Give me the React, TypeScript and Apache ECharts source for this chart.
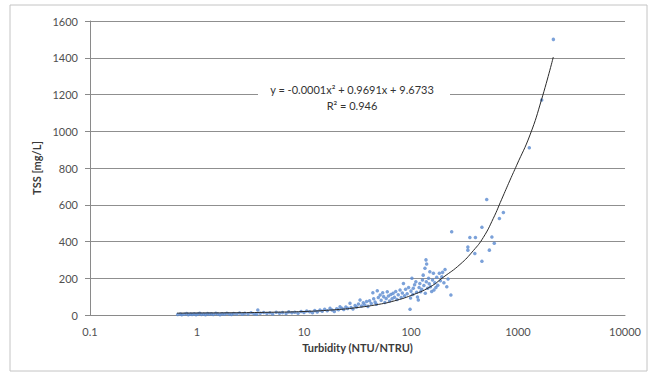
import React, { useEffect, useRef } from "react";
import * as echarts from "echarts";

const xTickLabels = ["0.1", "1", "10", "100", "1000", "10000"];
const yMin = 0;
const yMax = 1600;
const yStep = 200;

const lowRangePoints: [number, number][] = [
  [0.66, 3], [0.7, 6], [0.72, 1], [0.76, 4], [0.8, 8], [0.83, 2], [0.87, 5], [0.9, 3], [0.94, 7], [0.98, 2],
  [1.02, 5], [1.06, 9], [1.1, 3], [1.15, 6], [1.2, 2], [1.25, 8], [1.3, 4], [1.36, 7], [1.42, 3], [1.5, 9],
  [1.56, 5], [1.64, 2], [1.72, 7], [1.8, 4], [1.9, 10], [2.0, 6], [2.1, 3], [2.2, 8], [2.35, 5], [2.5, 11],
  [2.65, 4], [2.8, 9], [3.0, 6], [3.2, 12], [3.4, 7], [3.6, 4], [3.7, 27], [3.9, 10], [4.2, 14], [4.5, 8],
  [4.8, 12], [5.1, 6], [5.5, 15], [5.9, 10], [6.3, 13], [6.8, 8], [7.2, 17], [7.7, 12], [8.2, 15], [8.8, 10],
  [9.4, 19],
];

const midRangePoints: [number, number][] = [
  [10, 14], [10.6, 22], [11.3, 18], [12, 12], [12.6, 24], [13.3, 17], [14.1, 27], [14.8, 20], [15.6, 31], [16.5, 23],
  [17.5, 36], [18.3, 27], [19.2, 19], [20.2, 34], [21, 28], [21.7, 45], [22.6, 37], [23.5, 30], [24.6, 44], [25.6, 36],
  [26.9, 64], [27.5, 41], [28.7, 33], [30, 52], [31, 44], [32.3, 60], [33.4, 82], [34.5, 49], [35.8, 66], [37, 55],
  [38.4, 73], [39.6, 47], [41, 78], [42.5, 62], [44, 121], [44.8, 88], [46.2, 70], [47.5, 58], [48.4, 132], [49.5, 95],
  [51.5, 109], [52.6, 80], [54.4, 121], [55.5, 100], [57, 68], [58.6, 90], [60, 127], [61.5, 103], [63, 76], [64.8, 112],
  [66.5, 88], [68, 118], [70, 97], [72, 128], [74, 84], [76, 110], [79, 136], [81, 95], [83, 120], [85, 172],
  [87, 104], [89, 140], [92, 116], [95, 150], [98, 31], [99, 92],
];

const highRangePoints: [number, number][] = [
  [100, 130], [102, 200], [104, 112], [105, 145], [108, 165], [111, 181], [113, 124], [115, 98], [117, 82], [119, 150],
  [121, 172], [123, 127], [126, 140], [128, 190], [130, 217], [132, 160], [135, 254], [136, 118], [138, 300], [139, 181],
  [140, 277], [143, 145], [146, 200], [148, 170], [150, 235], [152, 154], [156, 128], [159, 190], [162, 227], [164, 136],
  [167, 176], [171, 150], [174, 205], [178, 162], [184, 227], [188, 186], [194, 208], [197, 232], [203, 175], [208, 248],
  [216, 154], [222, 196], [236, 109],
];

const peakPoints: [number, number][] = [
  [240, 453], [340, 370], [340, 353], [355, 422], [395, 335], [400, 422], [460, 477], [460, 293], [510, 629], [540, 353],
  [570, 425], [600, 390], [670, 525], [730, 558], [1275, 910], [1665, 1170], [2140, 1500],
];

const trendPoints: [number, number][] = [
  [0.65, 10], [1, 11], [2, 12], [5, 15], [10, 19], [20, 29], [30, 39], [50, 58], [70, 77], [100, 106],
  [150, 152], [200, 205], [287, 275], [382, 350], [474, 422], [588, 526], [704, 630], [842, 734], [972, 815],
  [1295, 980], [1665, 1175], [2138, 1404],
];

const equationText = "y = -0.0001x\u00B2 + 0.9691x + 9.6733";
const r2Text = "R\u00B2 = 0.946";

const FONT = "Lato, 'Open Sans', sans-serif";

export default function App() {
  const ref = useRef<HTMLDivElement>(null);

  useEffect(() => {
    if (!ref.current) return;
    const chart = echarts.init(ref.current, null, { renderer: "svg" });
    const scatterData = [...lowRangePoints, ...midRangePoints, ...highRangePoints, ...peakPoints];
    chart.setOption({
      animation: false,
      backgroundColor: "#ffffff",
      grid: { left: 90, right: 26, top: 21, bottom: 59 },
      xAxis: {
        type: "log",
        logBase: 10,
        min: 0.1,
        max: 10000,
        name: "Turbidity (NTU/NTRU)",
        nameLocation: "middle",
        nameGap: 27,
        nameTextStyle: { fontFamily: FONT, fontSize: 11, fontWeight: "bold", color: "#3a3a3a" },
        axisLine: { show: true, lineStyle: { color: "#8a8a8a", width: 1 } },
        axisTick: { show: false },
        splitLine: { show: false },
        minorTick: { show: false },
        axisLabel: {
          fontFamily: FONT,
          fontSize: 11,
          color: "#505050",
          margin: 11,
          formatter: (v: number) => {
            const i = Math.round(Math.log10(v)) + 1;
            return xTickLabels[i] ?? "";
          },
        },
      },
      yAxis: {
        type: "value",
        min: yMin,
        max: yMax,
        interval: yStep,
        name: "TSS [mg/L]",
        nameLocation: "middle",
        nameGap: 47,
        nameRotate: 90,
        nameTextStyle: { fontFamily: FONT, fontSize: 11, fontWeight: "bold", color: "#3a3a3a" },
        axisLine: { show: true, lineStyle: { color: "#8a8a8a", width: 1 } },
        axisTick: { show: true, length: 5, lineStyle: { color: "#8a8a8a" } },
        splitLine: { show: true, lineStyle: { color: "#8f8f8f", width: 1 } },
        axisLabel: {
          fontFamily: FONT,
          fontSize: 11,
          color: "#505050",
          margin: 12,
          formatter: (v: number) => String(v),
        },
      },
      series: [
        {
          type: "scatter",
          data: scatterData,
          symbol: "circle",
          symbolSize: 3.5,
          itemStyle: { color: "#5a8ad0" },
          z: 2,
        },
        {
          type: "line",
          data: trendPoints,
          smooth: true,
          showSymbol: false,
          lineStyle: { color: "#2a2a2a", width: 1 },
          z: 3,
        },
      ],
      graphic: [
        {
          type: "rect",
          shape: { x: 10, y: 5, width: 637, height: 366 },
          style: { fill: "none", stroke: "#c4c4c4", lineWidth: 1 },
          silent: true,
        },
        {
          type: "rect",
          shape: { x: 258, y: 81, width: 192, height: 31 },
          style: { fill: "#ffffff" },
          z: 10,
          silent: true,
        },
        {
          type: "text",
          x: 352,
          y: 89,
          z: 11,
          style: {
            text: equationText,
            fontFamily: FONT,
            fontSize: 11,
            fill: "#333333",
            align: "center",
            verticalAlign: "middle",
          },
        },
        {
          type: "text",
          x: 352,
          y: 105,
          z: 11,
          style: {
            text: r2Text,
            fontFamily: FONT,
            fontSize: 11,
            fill: "#333333",
            align: "center",
            verticalAlign: "middle",
          },
        },
      ],
    });
    return () => chart.dispose();
  }, []);

  return (
    <div
      ref={ref}
      style={{ position: "fixed", left: 0, top: 0, width: 651, height: 374, background: "#fff" }}
    />
  );
}
